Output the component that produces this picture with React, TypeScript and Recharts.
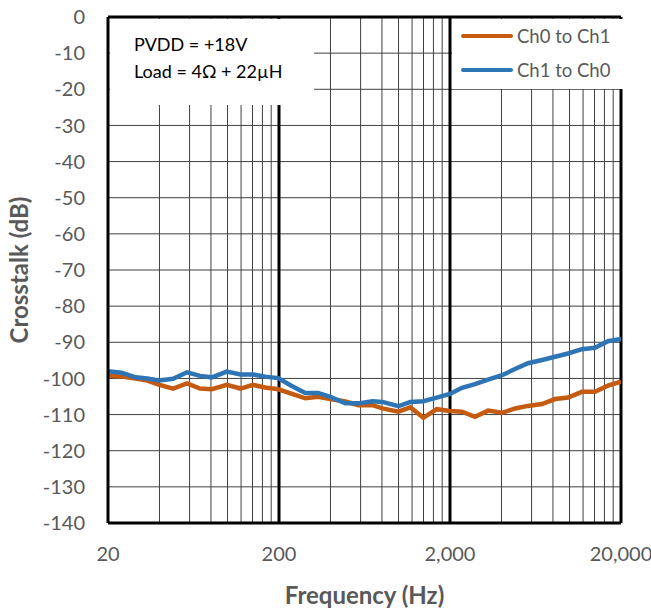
import { LineChart, Line, XAxis, YAxis, CartesianGrid, ReferenceLine, Legend } from "recharts";

const freqs = [
  20, 24, 29, 34, 40, 48, 58, 69, 81, 99, 119, 141, 166, 198, 236, 285, 339, 399, 489, 583,
  704, 806, 997, 1172, 1397, 1673, 1995, 2350, 2800, 3340, 4030, 4800, 5720, 6910, 8230, 9800,
  11820, 14080, 16770, 20000,
];

const ch0ToCh1 = [
  -99.2, -99.5, -100.0, -100.6, -101.8, -102.8, -101.4, -102.8, -103.0, -101.8, -102.8, -101.8,
  -102.5, -103.0, -104.2, -105.5, -105.1, -105.7, -106.4, -107.4, -107.4, -108.3, -109.2, -108.0,
  -110.9, -108.5, -109.0, -109.2, -110.6, -108.9, -109.5, -108.3, -107.6, -107.1, -105.7, -105.3,
  -103.7, -103.7, -102.0, -100.9,
];

const ch1ToCh0 = [
  -98.0, -98.4, -99.7, -100.0, -100.6, -100.1, -98.3, -99.3, -99.7, -98.1, -98.9, -98.9, -99.5,
  -99.9, -102.0, -104.0, -104.0, -105.1, -106.9, -106.9, -106.3, -106.5, -107.7, -106.5, -106.3,
  -105.3, -104.3, -102.6, -101.6, -100.3, -99.1, -97.4, -95.8, -94.9, -94.0, -93.1, -91.9, -91.5,
  -89.7, -89.1,
];

const xTicks = [20, 200, 2000, 20000];
const yTicks = [0, -10, -20, -30, -40, -50, -60, -70, -80, -90, -100, -110, -120, -130, -140];
const minorFreqs = [
  40, 60, 80, 100, 120, 140, 160, 180, 400, 600, 800, 1000, 1200, 1400, 1600, 1800, 4000, 6000,
  8000, 10000, 12000, 14000, 16000, 18000,
];
const majorFreqs = [200, 2000];

const seriesNames = ["Ch0 to Ch1", "Ch1 to Ch0"];
const seriesColors = ["#C55A11", "#2E75B6"];

const data = freqs.map((f, i) => ({ f, a: ch0ToCh1[i], b: ch1ToCh0[i] }));

const font = "Lato, 'Open Sans', sans-serif";
const gray = "#595959";

const LegendBox = () => (
  <div style={{ background: "#fff", width: "100%", height: "100%", fontFamily: font }}>
    {seriesNames.map((name, i) => (
      <div
        key={name}
        style={{ display: "flex", alignItems: "center", height: 34, paddingLeft: 9 }}
      >
        <div style={{ width: 52, height: 4, background: seriesColors[i], borderRadius: 2 }} />
        <span style={{ marginLeft: 4, fontSize: 18.5, color: gray }}>{name}</span>
      </div>
    ))}
  </div>
);

export default function App() {
  return (
    <div style={{ position: "absolute", left: 0, top: 0, width: 651, height: 612 }}>
      <LineChart
        width={651}
        height={612}
        data={data}
        margin={{ top: 17, right: 30, left: 0, bottom: 0 }}
        style={{ fontFamily: font }}
      >
        <CartesianGrid horizontal vertical={false} stroke="#404040" strokeWidth={1} />
        {minorFreqs.map((f) => (
          <ReferenceLine key={f} x={f} stroke="#404040" strokeWidth={1} />
        ))}
        {majorFreqs.map((f) => (
          <ReferenceLine key={f} x={f} stroke="#000" strokeWidth={3} />
        ))}
        <ReferenceLine y={0} stroke="#000" strokeWidth={3} />
        <ReferenceLine x={20000} stroke="#000" strokeWidth={3} />
        <XAxis
          dataKey="f"
          type="number"
          scale="log"
          domain={[20, 20000]}
          ticks={xTicks}
          allowDataOverflow
          height={89}
          tickLine={false}
          tickSize={0}
          tickMargin={24}
          tickFormatter={(v: number) => v.toLocaleString("en-US")}
          tick={{ fill: gray, fontSize: 20 }}
          axisLine={{ stroke: "#000", strokeWidth: 3 }}
          label={{
            value: "Frequency (Hz)",
            position: "insideBottom",
            offset: 8,
            fill: gray,
            fontSize: 24,
            fontWeight: "bold",
          }}
        />
        <YAxis
          type="number"
          domain={[-140, 0]}
          ticks={yTicks}
          width={108}
          tickLine={false}
          tickSize={0}
          tickMargin={23}
          tick={{ fill: gray, fontSize: 20 }}
          axisLine={{ stroke: "#000", strokeWidth: 3 }}
          label={{
            value: "Crosstalk (dB)",
            angle: -90,
            position: "insideLeft",
            offset: 19,
            fill: gray,
            fontSize: 24,
            fontWeight: "bold",
            style: { textAnchor: "middle" },
          }}
        />
        <Legend
          layout="vertical"
          align="center"
          verticalAlign="middle"
          content={() => <LegendBox />}
          wrapperStyle={{ left: 452, top: 19, width: 176, height: 70 }}
        />
        <Line
          dataKey="a"
          name={seriesNames[0]}
          stroke={seriesColors[0]}
          strokeWidth={4.5}
          dot={false}
          activeDot={false}
          isAnimationActive={false}
        />
        <Line
          dataKey="b"
          name={seriesNames[1]}
          stroke={seriesColors[1]}
          strokeWidth={4.5}
          dot={false}
          activeDot={false}
          isAnimationActive={false}
        />
      </LineChart>
      <div
        style={{
          position: "absolute",
          left: 110,
          top: 19,
          width: 204,
          height: 86,
          background: "#fff",
          fontFamily: font,
          fontSize: 18,
          color: "#000",
          lineHeight: "27px",
          paddingTop: 12,
          paddingLeft: 24,
          boxSizing: "border-box",
        }}
      >
        <div>PVDD = +18V</div>
        <div>Load = 4Ω + 22µH</div>
      </div>
    </div>
  );
}
